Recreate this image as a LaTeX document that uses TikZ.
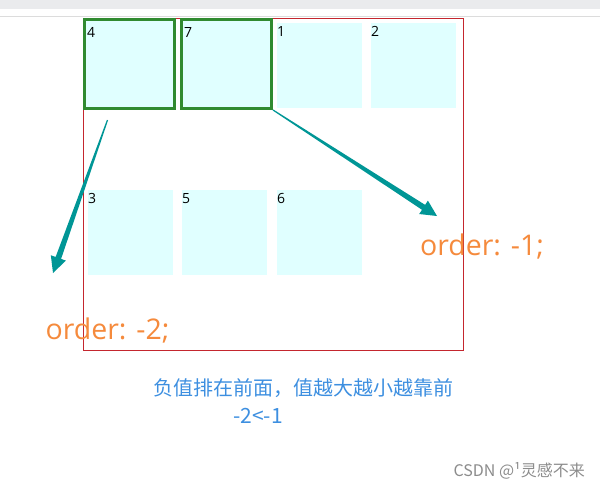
\documentclass[tikz,border=0pt]{standalone}
\usepackage{fontspec}
\setmainfont{Open Sans}
\newfontfamily\cjk{Noto Sans CJK SC}
\usetikzlibrary{calc,positioning}
\definecolor{cellcyan}{HTML}{E0FFFF}
\definecolor{pickgreen}{HTML}{308A30}
\definecolor{flexred}{HTML}{C4262E}
\definecolor{arrowteal}{HTML}{009696}
\definecolor{ordorange}{HTML}{F58A3C}
\definecolor{noteblue}{HTML}{3D8FE0}
\definecolor{topbar}{HTML}{EAEBED}
\definecolor{sepline}{HTML}{DCDCDC}
\tikzset{
	cell/.style={fill=cellcyan, minimum width=85pt, minimum height=85pt, inner sep=0pt},
	picked/.style={cell, draw=pickgreen, line width=3pt, minimum width=90pt, minimum height=89pt},
	num/.style={anchor=base west, inner sep=0pt, font=\fontsize{14}{16}\selectfont},
	flexbox/.style={draw=flexred, line width=1pt, minimum width=380pt, minimum height=332pt, inner sep=0pt},
	ordertxt/.style={anchor=base, inner sep=0pt, text=ordorange, font=\fontsize{28.5}{34}\selectfont},
	notetxt/.style={anchor=base, inner sep=0pt, text=noteblue, font=\cjk\fontsize{20}{24}\selectfont},
	marktxt/.style={anchor=base east, inner sep=0pt, text=black!45, font=\cjk\fontsize{16}{19}\selectfont}
}
% keilpfeil: duenn am anfang, breit vor der spitze
\newcommand{\flowarrow}[2]{%
	\coordinate (fn) at ($(#2)!16pt!(#1)$);
	\fill[arrowteal] ($(#1)!0.6pt!90:(#2)$) -- ($(fn)!2.9pt!90:(#2)$) -- ($(fn)!8pt!90:(#2)$) -- (#2)
		-- ($(fn)!8pt!-90:(#2)$) -- ($(fn)!2.9pt!-90:(#2)$) -- ($(#1)!0.6pt!-90:(#2)$) -- cycle;
}
\begin{document}
\begin{tikzpicture}[x=1pt, y=-1pt]
	\useasboundingbox (0,0) rectangle (600,490);
	\fill[topbar] (0,0) rectangle (600,8.5);
	\fill[sepline] (0,15.5) rectangle (600,17);
	\node[flexbox] (flex) at (273.5,184.5) {};
	% erste reihe
	\foreach \n/\x in {4/129.5, 7/226.5} {
		\node[picked] (b\n) at (\x,64) {};
		\node[num] at ($(b\n.north west)+(4,19)$) {\n};
	}
	\foreach \n/\x in {1/319.5, 2/413.5} {
		\node[cell] (b\n) at (\x,65.5) {};
		\node[num] at ($(b\n.north west)+(0,14)$) {\n};
	}
	% zweite reihe
	\foreach \n/\x in {3/130.5, 5/224.5, 6/319.5} {
		\node[cell] (b\n) at (\x,232) {};
		\node[num] at ($(b\n.north west)+(0,14)$) {\n};
	}
	\node[ordertxt] (ord1) at (482,255) {order: -1;};
	\node[ordertxt] (ord2) at (107.5,339) {order: -2;};
	\coordinate (s4) at ($(b4.south)+(-22,10)$);
	\coordinate (tip4) at (53,273);
	\coordinate (tip7) at (437,216);
	\flowarrow{s4}{tip4}
	\flowarrow{b7.south east}{tip7}
	\node[notetxt] (note) at (303.5,395) {负值排在前面，值越大越小越靠前};
	\node[notetxt, font=\cjk\fontsize{21}{25}\selectfont] (cmp) at (258,423) {-2<-1};
	\node[marktxt] (mark) at (585,476) {CSDN @¹灵感不来};
\end{tikzpicture}
\end{document}
